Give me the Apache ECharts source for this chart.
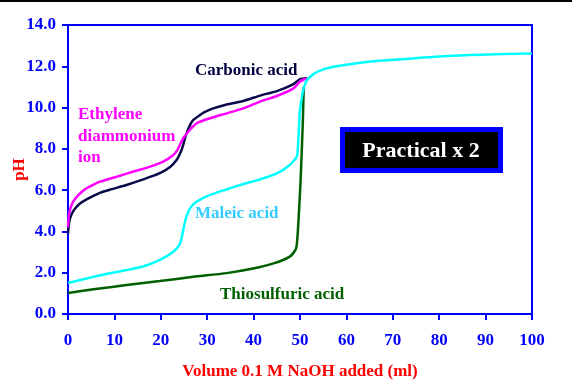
<!DOCTYPE html>
<html><head><meta charset="utf-8">
<script src="https://cdn.jsdelivr.net/npm/echarts@6/dist/echarts.min.js"></script>
<style>html,body{margin:0;padding:0;background:#fff}#c{width:572px;height:391px}</style>
</head><body><div id="c"></div>
<script>
const xTicks = [0,10,20,30,40,50,60,70,80,90,100];
const yTicks = ['0.0','2.0','4.0','6.0','8.0','10.0','12.0','14.0'];
const carbonic = [[0,3.9],[0.3,4.5],[0.8,4.85],[1.5,5.1],[2.6,5.35],[4,5.55],[5.5,5.72],[7,5.88],[9,6.02],[12.6,6.25],[16.2,6.52],[19.8,6.82],[22,7.12],[23.4,7.46],[24.2,7.8],[24.7,8.1],[25.4,8.65],[26.3,9.15],[27,9.4],[28.2,9.6],[29.2,9.76],[31.3,9.96],[34.2,10.15],[37.8,10.32],[41.4,10.58],[45,10.8],[48.6,11.14],[50,11.38],[51.5,11.42]];
const ethylene = [[0,4.2],[0.2,4.8],[0.5,5.1],[1,5.4],[1.9,5.68],[3,5.92],[4,6.09],[5.5,6.27],[6.9,6.41],[10.5,6.65],[14.1,6.9],[17.7,7.14],[20.5,7.38],[22.7,7.7],[23.6,7.95],[24.1,8.19],[24.8,8.5],[25.9,8.83],[26.8,9.05],[27.7,9.24],[30.6,9.48],[34.2,9.72],[37.8,9.96],[41.4,10.29],[45,10.56],[48.6,10.93],[50,11.26],[51.4,11.42]];
const maleic = [[0,1.5],[5.5,1.8],[9,1.97],[12.6,2.13],[16.2,2.3],[19.8,2.62],[22.7,3.02],[24,3.34],[24.4,3.6],[24.7,3.91],[25.1,4.35],[25.4,4.64],[26.3,5.12],[27.7,5.44],[30.6,5.77],[34.2,6.04],[37.8,6.3],[41.4,6.52],[45,6.81],[47.8,7.22],[49.3,7.62],[49.6,8.27],[49.8,9.1],[50,9.88],[50.4,10.5],[50.7,10.85],[51.4,11.3],[52.9,11.62],[55,11.85],[57.9,12.0],[62.2,12.15],[67.2,12.27],[74.4,12.38],[81.6,12.5],[88.8,12.56],[100,12.62]];
const thiosulfuric = [[0,1.02],[5.5,1.2],[12.6,1.4],[19.8,1.6],[27,1.8],[34.2,1.98],[39.9,2.2],[44.3,2.45],[47.8,2.78],[49,3.1],[49.3,3.34],[49.6,4.23],[50.1,6.33],[50.6,9.24],[50.8,11.0]];

const F = '"Liberation Serif", "Times New Roman", serif';
const chart = echarts.init(document.getElementById('c'), null, {renderer:'canvas'});
function mk(name, data, color){
  return {name, type:'line', data, showSymbol:false, smooth:0.2, lineStyle:{color, width:2.5}, itemStyle:{color}, z:2};
}
function lbl(text, x, y, color, size){
  return {type:'text', x, y, style:{text, fill:color, font:'bold '+(size||17)+'px '+F, textVerticalAlign:'middle'}, z:10};
}
chart.setOption({
  animation:false,
  backgroundColor:'#fff',
  grid:{left:68, right:40, top:25, bottom:77, outerBoundsMode:'none', containLabel:false, show:true, borderColor:'#0000ff', borderWidth:2, backgroundColor:'transparent'},
  xAxis:{type:'value', min:0, max:100, interval:10,
    name:'Volume 0.1 M NaOH added (ml)', nameLocation:'middle', nameGap:49, nameMoveOverlap:false,
    nameTextStyle:{color:'#ff0000', fontFamily:F, fontWeight:'bold', fontSize:17},
    axisLine:{lineStyle:{color:'#0000ff', width:2}},
    axisTick:{show:true, inside:false, length:6, lineStyle:{color:'#0000ff', width:2}},
    axisLabel:{color:'#0000ff', fontFamily:F, fontWeight:'bold', fontSize:17, margin:18,
      formatter:v=>xTicks.includes(v)?String(v):''},
    splitLine:{show:false}},
  yAxis:{type:'value', min:0, max:14, interval:2,
    name:'pH', nameLocation:'middle', nameGap:40, nameMoveOverlap:false,
    nameTextStyle:{color:'#ff0000', fontFamily:F, fontWeight:'bold', fontSize:17},
    axisLine:{show:true, lineStyle:{color:'#0000ff', width:2}},
    axisTick:{show:true, inside:false, length:6, lineStyle:{color:'#0000ff', width:2}},
    axisLabel:{color:'#0000ff', fontFamily:F, fontWeight:'bold', fontSize:17, margin:12,
      formatter:v=>yTicks[Math.round(v/2)]},
    splitLine:{show:false}},
  series:[
    mk('Carbonic acid', carbonic, '#0a0a4a'),
    mk('Ethylene diammonium ion', ethylene, '#ff00ff'),
    mk('Thiosulfuric acid', thiosulfuric, '#006000'),
    mk('Maleic acid', maleic, '#00ffff')
  ],
  graphic:[
    {type:'rect', shape:{x:0, y:0, width:572, height:2}, style:{fill:'#000'}},
    lbl('Carbonic acid', 195, 71, '#000040'),
    lbl('Ethylene', 78, 115, '#ff00ff'),
    lbl('diammonium', 78, 137, '#ff00ff'),
    lbl('ion', 78, 158, '#ff00ff'),
    lbl('Maleic acid', 195, 214, '#33ccff'),
    lbl('Thiosulfuric acid', 220, 295, '#006000'),
    {type:'rect', shape:{x:342.5, y:129.5, width:158, height:41}, style:{fill:'#000', stroke:'#0000ff', lineWidth:5}, z:10},
    {type:'text', x:421, y:151, style:{text:'Practical x 2', fill:'#fff', font:'bold 22px '+F, textAlign:'center', textVerticalAlign:'middle'}, z:11}
  ]
});
</script></body></html>
